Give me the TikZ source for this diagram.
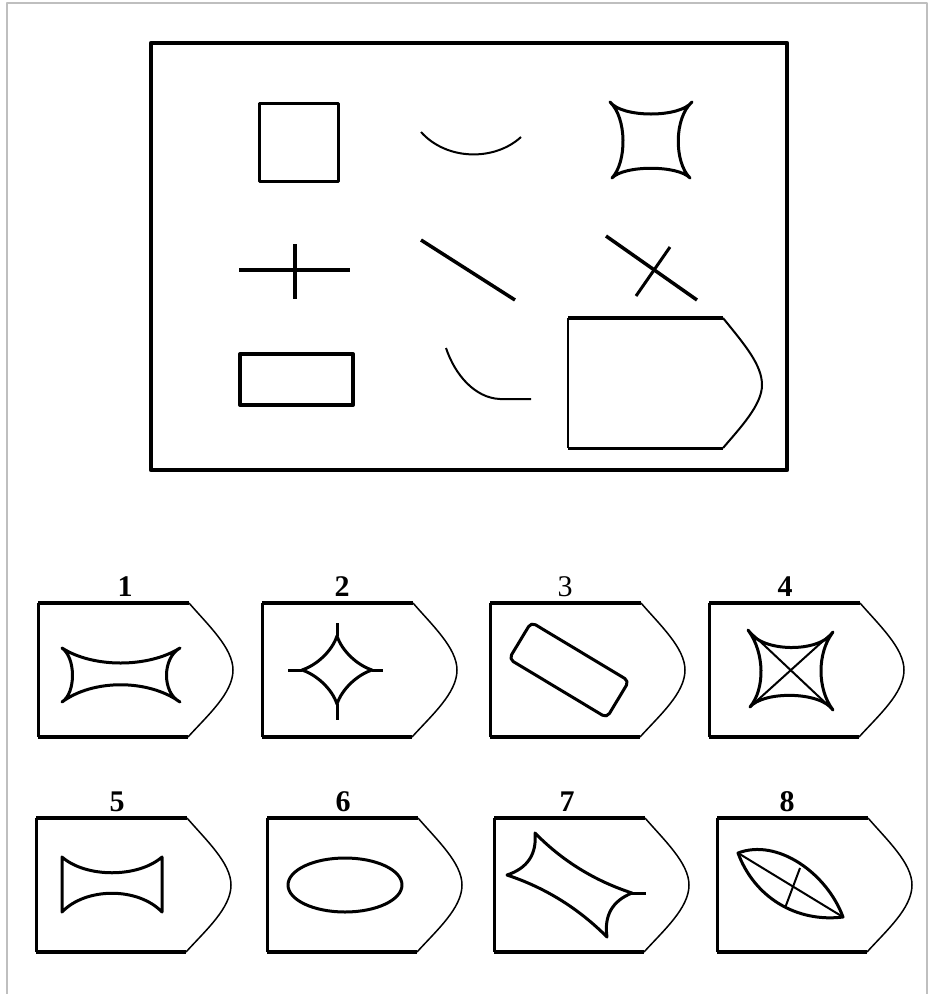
\documentclass[tikz,border=0pt]{standalone}
\usepackage{fontspec}
\setmainfont{Liberation Serif}
\tikzset{
  frameline/.style={draw=black!25, line width=1.5pt},
  mainbox/.style={draw=black, line width=4.5pt},
  thick4/.style={draw=black, line width=4pt},
  thick3/.style={draw=black, line width=3pt},
  thin2/.style={draw=black, line width=2pt},
  thin15/.style={draw=black, line width=1.5pt},
  lbl/.style={font=\fontsize{30}{30}\selectfont\bfseries, inner sep=0pt},
  lblr/.style={font=\fontsize{30}{30}\selectfont, inner sep=0pt},
}
\newcommand\optframe{%
  \draw[thick4] (151,0) -- (0,0);
  \draw[thick3] (0,0) -- (0,134);
  \draw[thick4] (0,134) -- (150,134);
  \draw[thin15] (151,0) .. controls (170,22) and (195,45) .. (195,67)
     .. controls (195,90) and (170,112) .. (150,134);
}
\begin{document}
\begin{tikzpicture}[x=1pt,y=-1pt, line join=round]
\useasboundingbox (0,0) rectangle (928,994);
% faint outer frame
\draw[frameline] (7,994) -- (7,3) -- (927,3) -- (927,994);
% main panel
\draw[mainbox] (151,43) rectangle (787,470);
% row 1
\draw[thick3] (259,103) rectangle (338,181);
\draw[thin2] (421,132) .. controls (447,161) and (495,161) .. (521,137);
\draw[thick3] (610,102) .. controls (622,118) and (680,118) .. (692,102)
   .. controls (674,118) and (674,162) .. (690,178)
   .. controls (678,165) and (624,165) .. (612,178)
   .. controls (627,162) and (627,118) .. (610,102) -- cycle;
% row 2
\draw[thick4] (239,270) -- (350,270);
\draw[thick4] (295,244) -- (295,299);
\draw[draw=black, line width=3.5pt] (421,240) -- (515,300);
\draw[draw=black, line width=3.5pt] (606,236) -- (697,300);
\draw[thick3] (670,247) -- (636,296);
% row 3
\draw[thick4] (240,354) rectangle (353,405);
\draw[thin2] (446,348) .. controls (455,375) and (475,398) .. (500,399) -- (531,399);
\draw[thick4] (568,318) -- (723,318);
\draw[thin2] (568,318) -- (568,448);
\draw[thick3] (568,448) -- (723,448);
\draw[thin2] (723,318) .. controls (745,345) and (762,365) .. (762,385)
   .. controls (762,405) and (740,428) .. (723,448);

% labels
\node[lbl] (n1) at (125,587) {1};
\node[lbl] (n2) at (342,587) {2};
\node[lblr] (n3) at (565,587) {3};
\node[lbl] (n4) at (785,587) {4};
\node[lbl] (n5) at (117,802) {5};
\node[lbl] (n6) at (343,802) {6};
\node[lbl] (n7) at (567,802) {7};
\node[lbl] (n8) at (787,802) {8};

% option 1
\begin{scope}[shift={(38,603)}]
\optframe
\draw[thick3] (24,45) .. controls (55,65) and (110,65) .. (142,45)
  .. controls (124,55) and (124,90) .. (142,99)
  .. controls (110,76) and (55,76) .. (24,99)
  .. controls (38,90) and (38,55) .. (24,45) -- cycle;
\end{scope}
% option 2
\begin{scope}[shift={(262,603)}]
\optframe
\draw[thick3] (75,33) .. controls (70,48) and (55,62) .. (40,67)
  .. controls (55,72) and (70,86) .. (75,101)
  .. controls (80,86) and (95,72) .. (110,67)
  .. controls (95,62) and (80,48) .. (75,33) -- cycle;
\draw[thick3] (75,20) -- (75,33);
\draw[thick3] (75,101) -- (75,117);
\draw[thick3] (26,67) -- (40,67);
\draw[thick3] (110,67) -- (121,67);
\end{scope}
% option 3
\begin{scope}[shift={(490,603)}]
\optframe
\draw[thick3, rounded corners=5pt] (41.2,19.2) -- (139,78) -- (116.8,114.8) -- (19,56) -- cycle;
\end{scope}
% option 4
\begin{scope}[shift={(709,603)}]
\optframe
\draw[thick3] (39,27) .. controls (52,50) and (111,50) .. (124,29)
  .. controls (108,50) and (108,86) .. (124,107)
  .. controls (111,88) and (54,88) .. (41,104)
  .. controls (56,86) and (56,50) .. (39,27) -- cycle;
\draw[thin2] (39,27) -- (124,107);
\draw[thin2] (124,29) -- (41,104);
\end{scope}
% option 5
\begin{scope}[shift={(36,818)}]
\optframe
\draw[thick3] (26,39) .. controls (50,60) and (102,60) .. (126,39)
  -- (126,94)
  .. controls (102,69) and (50,69) .. (26,94) -- cycle;
\end{scope}
% option 6
\begin{scope}[shift={(267,818)}]
\optframe
\draw[thick3] (78,67) ellipse [x radius=57, y radius=27];
\end{scope}
% option 7
\begin{scope}[shift={(494,818)}]
\optframe
\draw[thick3] (41,15) .. controls (42.9,36.2) and (33.5,50.2) .. (13,57)
  .. controls (51,69.6) and (84.4,90.2) .. (113,119)
  .. controls (109.9,97.5) and (118.3,82.9) .. (138,75)
  .. controls (100.6,62.8) and (68.2,42.8) .. (41,15) -- cycle;
\draw[thick3] (138,75) -- (152,75);
\end{scope}
% option 8
\begin{scope}[shift={(717,818)}]
\optframe
\draw[thick3] (21,35) .. controls (60,20) and (109.7,54.8) .. (126,99)
  .. controls (79.3,104.8) and (37.3,79.2) .. (21,35) -- cycle;
\draw[thin2] (21,35) -- (126,99);
\draw[thin2] (83,50) -- (68,90);
\end{scope}
\end{tikzpicture}
\end{document}
